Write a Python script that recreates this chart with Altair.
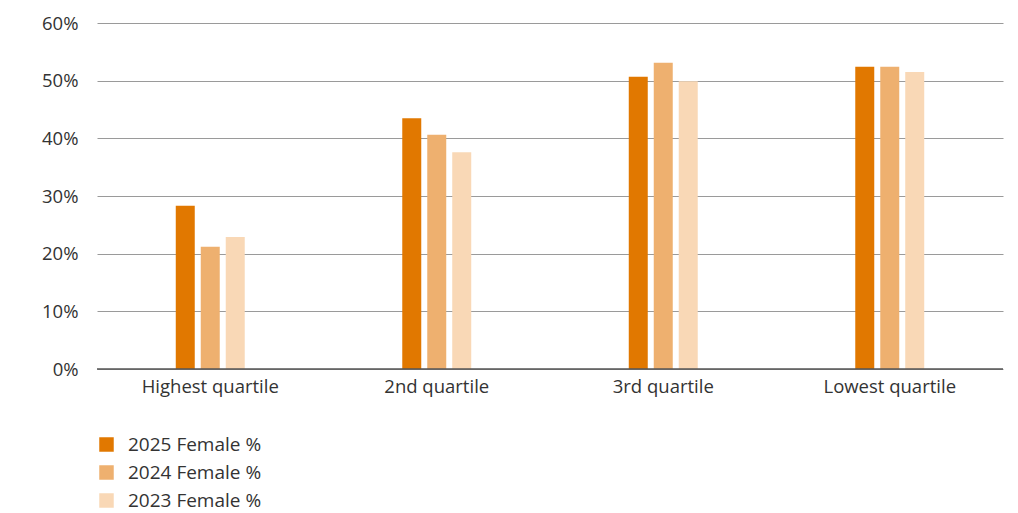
import altair as alt
import pandas as pd

categories = ["Highest quartile", "2nd quartile", "3rd quartile", "Lowest quartile"]
series = ["2025 Female %", "2024 Female %", "2023 Female %"]
v2025 = [28.3, 43.5, 50.7, 52.4]
v2024 = [21.2, 40.6, 53.1, 52.4]
v2023 = [22.9, 37.6, 49.9, 51.5]
colors = ["#E17800", "#EEB06F", "#F9D8B6"]

rows = []
for s, vals in zip(series, [v2025, v2024, v2023]):
    for c, v in zip(categories, vals):
        rows.append({"cat": c, "series": s, "value": v / 100})
df = pd.DataFrame(rows)

FONT = "Open Sans"
FS = 18.5

bars = alt.Chart(df).mark_bar().encode(
    x=alt.X("cat:N", sort=categories, title=None,
            scale=alt.Scale(paddingInner=0.669, paddingOuter=0.3345),
            axis=alt.Axis(labelAngle=0, labelFontSize=FS, labelColor="#333333",
                          labelFont=FONT, ticks=False, domain=False, labelPadding=8)),
    xOffset=alt.XOffset("series:N", sort=series,
                        scale=alt.Scale(paddingInner=0.24, paddingOuter=0.12)),
    y=alt.Y("value:Q", title=None,
            scale=alt.Scale(domain=[0, 0.6]),
            axis=alt.Axis(format=".0%", values=[0, 0.1, 0.2, 0.3, 0.4, 0.5, 0.6],
                          labelFontSize=FS, labelColor="#333333", labelFont=FONT,
                          ticks=False, domain=False, labelPadding=19,
                          gridColor="#9a9a9a", gridWidth=1)),
    color=alt.Color("series:N", sort=series,
                    scale=alt.Scale(domain=series, range=colors),
                    legend=alt.Legend(title=None, orient="none", legendX=0, legendY=412,
                                      symbolType="square", symbolSize=210,
                                      symbolStrokeWidth=0,
                                      labelFontSize=19, labelColor="#333333",
                                      labelFont=FONT, rowPadding=8, labelOffset=12)),
)

base = alt.Chart(pd.DataFrame({"y": [0]})).mark_rule(color="#555555", strokeWidth=1.3).encode(
    y="y:Q"
)

chart = alt.layer(bars, base).properties(
    width=906, height=346,
    padding={"left": 89, "top": 15, "right": 7, "bottom": 140},
    autosize=alt.AutoSizeParams(type="none"),
).configure_view(stroke=None).configure_axis(gridColor="#9a9a9a")

chart.save("out.html", embed_options={"renderer": "svg", "actions": False})
